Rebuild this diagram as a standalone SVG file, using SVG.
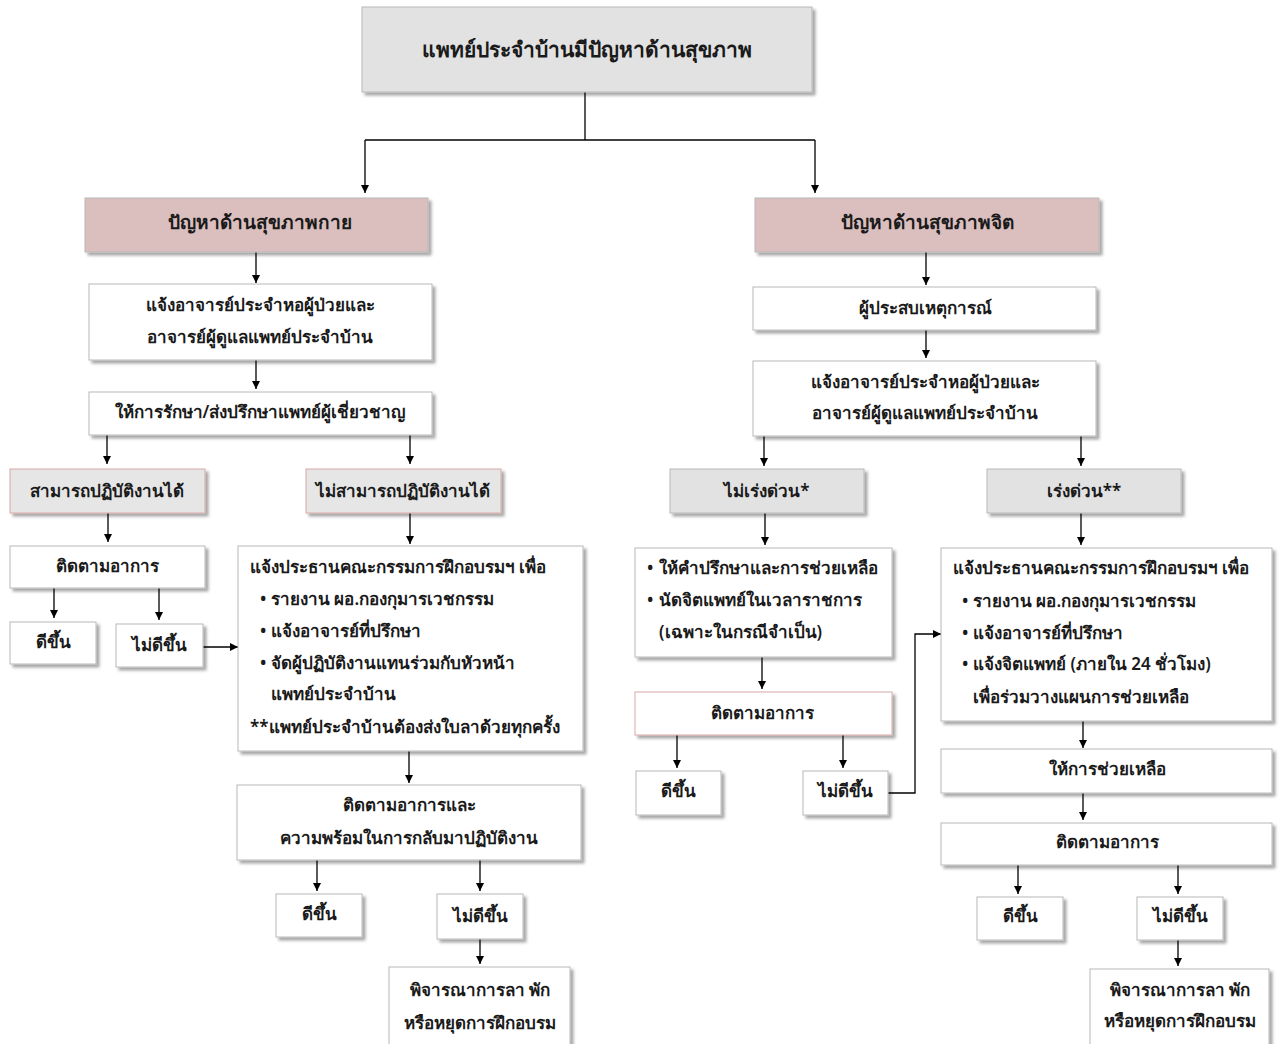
<svg xmlns="http://www.w3.org/2000/svg" width="1279" height="1044" viewBox="0 0 1279 1044">
<defs>
<filter id="sh" x="-10%" y="-10%" width="130%" height="140%">
<feDropShadow dx="3" dy="3" stdDeviation="1.5" flood-color="#000" flood-opacity="0.35"/>
</filter>
<marker id="ah" viewBox="0 0 10 10" refX="10" refY="5" markerWidth="8" markerHeight="8" markerUnits="userSpaceOnUse" orient="auto">
<path d="M0,0 L10,5 L0,10 z" fill="#000"/>
</marker>
<style>
.b{fill:#fff;stroke:#b8b8b8;stroke-width:1;filter:url(#sh)}
.g{fill:#e2e2e2;stroke:#b8b8b8;stroke-width:1;filter:url(#sh)}
.gp{fill:#e6e6e6;stroke:#d8a8a8;stroke-width:1;filter:url(#sh)}
.wp{fill:#fff;stroke:#d8a8a8;stroke-width:1;filter:url(#sh)}
.p{fill:#dbbfbf;stroke:#b8b8b8;stroke-width:1;filter:url(#sh)}
text{font-family:"Noto Sans","DejaVu Sans",sans-serif;font-size:17px;font-weight:600;fill:#1a1a1a}
.c{text-anchor:middle}
.t{font-size:21px}
.h{font-size:19px}
.c2 polyline,.c2 line{stroke:#000;stroke-width:1.3;fill:none}
.a{marker-end:url(#ah)}
</style>
</defs>
<rect width="1279" height="1044" fill="#fff"/>
<g class="c2" id="connectors">
<line x1="585" y1="92" x2="585" y2="140"/>
<line x1="365" y1="140" x2="815" y2="140"/>
<line class="a" x1="365" y1="140" x2="365" y2="193"/>
<line class="a" x1="815" y1="140" x2="815" y2="193"/>
<line class="a" x1="256" y1="252" x2="256" y2="283"/>
<line class="a" x1="256" y1="360" x2="256" y2="389"/>
<line class="a" x1="107" y1="435" x2="107" y2="464"/>
<line class="a" x1="410" y1="435" x2="410" y2="464"/>
<line class="a" x1="108" y1="513" x2="108" y2="542"/>
<line class="a" x1="410" y1="513" x2="410" y2="544"/>
<line class="a" x1="54" y1="588" x2="54" y2="618"/>
<line class="a" x1="159" y1="588" x2="159" y2="620"/>
<line class="a" x1="203" y1="647" x2="238" y2="647"/>
<line class="a" x1="409" y1="751" x2="409" y2="783"/>
<line class="a" x1="317" y1="860" x2="317" y2="891"/>
<line class="a" x1="480" y1="860" x2="480" y2="891"/>
<line class="a" x1="480" y1="939" x2="480" y2="964"/>
<line class="a" x1="926" y1="252" x2="926" y2="285"/>
<line class="a" x1="926" y1="330" x2="926" y2="358"/>
<line class="a" x1="764" y1="436" x2="764" y2="466"/>
<line class="a" x1="1081" y1="436" x2="1081" y2="466"/>
<line class="a" x1="765" y1="513" x2="765" y2="545"/>
<line class="a" x1="1081" y1="513" x2="1081" y2="545"/>
<line class="a" x1="762" y1="657" x2="762" y2="689"/>
<line class="a" x1="677" y1="735" x2="677" y2="768"/>
<line class="a" x1="843" y1="735" x2="843" y2="768"/>
<polyline class="a" points="888,793 915,793 915,634 941,634"/>
<line class="a" x1="1083" y1="721" x2="1083" y2="748"/>
<line class="a" x1="1083" y1="793" x2="1083" y2="820"/>
<line class="a" x1="1018" y1="865" x2="1018" y2="894"/>
<line class="a" x1="1178" y1="865" x2="1178" y2="894"/>
<line class="a" x1="1178" y1="940" x2="1178" y2="966"/>
</g>
<g id="top"><rect class="g" x="362" y="7" width="450" height="85"/><text class="c t" x="587" y="57">แพทย์ประจำบ้านมีปัญหาด้านสุขภาพ</text></g>
<g id="physical"><rect class="p" x="85" y="198" width="343" height="54"/><text class="c h" x="260" y="229">ปัญหาด้านสุขภาพกาย</text></g>
<g id="mental"><rect class="p" x="755" y="198" width="344" height="54"/><text class="c h" x="927" y="229">ปัญหาด้านสุขภาพจิต</text></g>
<g id="l-notify"><rect class="b" x="89" y="284" width="343" height="76"/><text class="c" x="260" y="311">แจ้งอาจารย์ประจำหอผู้ป่วยและ</text><text class="c" x="260" y="343">อาจารย์ผู้ดูแลแพทย์ประจำบ้าน</text></g>
<g id="l-treat"><rect class="b" x="89" y="392" width="343" height="43"/><text class="c" x="260" y="418">ให้การรักษา/ส่งปรึกษาแพทย์ผู้เชี่ยวชาญ</text></g>
<g id="l-can"><rect class="gp" x="10" y="469" width="195" height="44"/><text class="c" x="107" y="497">สามารถปฏิบัติงานได้</text></g>
<g id="l-cannot"><rect class="gp" x="306" y="469" width="195" height="44"/><text class="c" x="403" y="497">ไม่สามารถปฏิบัติงานได้</text></g>
<g id="l-follow"><rect class="b" x="10" y="546" width="195" height="42"/><text class="c" x="107" y="572">ติดตามอาการ</text></g>
<g id="l-better"><rect class="b" x="10" y="622" width="86" height="42"/><text class="c" x="53" y="648">ดีขึ้น</text></g>
<g id="l-notbetter"><rect class="b" x="116" y="624" width="87" height="43"/><text class="c" x="159" y="651">ไม่ดีขึ้น</text></g>
<g id="l-chair"><rect class="b" x="238" y="546" width="345" height="205"/>
<text x="250" y="573">แจ้งประธานคณะกรรมการฝึกอบรมฯ เพื่อ</text>
<text x="260" y="605">•</text><text x="271" y="605">รายงาน ผอ.กองกุมารเวชกรรม</text>
<text x="260" y="637">•</text><text x="271" y="637">แจ้งอาจารย์ที่ปรึกษา</text>
<text x="260" y="669">•</text><text x="271" y="669">จัดผู้ปฏิบัติงานแทนร่วมกับหัวหน้า</text>
<text x="271" y="700">แพทย์ประจำบ้าน</text>
<text x="250" y="733">**แพทย์ประจำบ้านต้องส่งใบลาด้วยทุกครั้ง</text></g>
<g id="l-follow2"><rect class="b" x="237" y="785" width="344" height="75"/><text class="c" x="409" y="811">ติดตามอาการและ</text><text class="c" x="409" y="844">ความพร้อมในการกลับมาปฏิบัติงาน</text></g>
<g id="l-better2"><rect class="b" x="276" y="894" width="86" height="43"/><text class="c" x="319" y="920">ดีขึ้น</text></g>
<g id="l-notbetter2"><rect class="b" x="437" y="894" width="86" height="45"/><text class="c" x="480" y="922">ไม่ดีขึ้น</text></g>
<g id="l-leave"><rect class="b" x="389" y="967" width="181" height="80"/><text class="c" x="480" y="996">พิจารณาการลา พัก</text><text class="c" x="480" y="1029">หรือหยุดการฝึกอบรม</text></g>
<g id="r-witness"><rect class="b" x="753" y="287" width="343" height="43"/><text class="c" x="925" y="314">ผู้ประสบเหตุการณ์</text></g>
<g id="r-notify"><rect class="b" x="753" y="361" width="343" height="75"/><text class="c" x="925" y="388">แจ้งอาจารย์ประจำหอผู้ป่วยและ</text><text class="c" x="925" y="419">อาจารย์ผู้ดูแลแพทย์ประจำบ้าน</text></g>
<g id="r-nonurgent"><rect class="g" x="670" y="469" width="194" height="44"/><text class="c" x="767" y="497">ไม่เร่งด่วน*</text></g>
<g id="r-urgent"><rect class="g" x="987" y="469" width="194" height="44"/><text class="c" x="1084" y="497">เร่งด่วน**</text></g>
<g id="r-advice"><rect class="b" x="635" y="548" width="257" height="109"/>
<text x="647" y="574">•</text><text x="659" y="574">ให้คำปรึกษาและการช่วยเหลือ</text>
<text x="647" y="606">•</text><text x="659" y="606">นัดจิตแพทย์ในเวลาราชการ</text>
<text x="659" y="638">(เฉพาะในกรณีจำเป็น)</text></g>
<g id="r-follow"><rect class="wp" x="635" y="692" width="257" height="43"/><text class="c" x="762" y="719">ติดตามอาการ</text></g>
<g id="r-better"><rect class="b" x="636" y="771" width="85" height="44"/><text class="c" x="678" y="797">ดีขึ้น</text></g>
<g id="r-notbetter"><rect class="b" x="803" y="771" width="85" height="44"/><text class="c" x="845" y="797">ไม่ดีขึ้น</text></g>
<g id="r-chair"><rect class="b" x="941" y="548" width="331" height="173"/>
<text x="953" y="574">แจ้งประธานคณะกรรมการฝึกอบรมฯ เพื่อ</text>
<text x="962" y="607">•</text><text x="973" y="607">รายงาน ผอ.กองกุมารเวชกรรม</text>
<text x="962" y="639">•</text><text x="973" y="639">แจ้งอาจารย์ที่ปรึกษา</text>
<text x="962" y="670">•</text><text x="973" y="670">แจ้งจิตแพทย์ (ภายใน 24 ชั่วโมง)</text>
<text x="973" y="703">เพื่อร่วมวางแผนการช่วยเหลือ</text></g>
<g id="r-help"><rect class="b" x="941" y="749" width="331" height="44"/><text class="c" x="1107" y="775">ให้การช่วยเหลือ</text></g>
<g id="r-follow2"><rect class="b" x="941" y="823" width="331" height="42"/><text class="c" x="1107" y="848">ติดตามอาการ</text></g>
<g id="r-better2"><rect class="b" x="977" y="897" width="86" height="43"/><text class="c" x="1020" y="922">ดีขึ้น</text></g>
<g id="r-notbetter2"><rect class="b" x="1137" y="897" width="86" height="43"/><text class="c" x="1180" y="922">ไม่ดีขึ้น</text></g>
<g id="r-leave"><rect class="b" x="1090" y="969" width="179" height="80"/><text class="c" x="1180" y="996">พิจารณาการลา พัก</text><text class="c" x="1180" y="1027">หรือหยุดการฝึกอบรม</text></g>
</svg>
